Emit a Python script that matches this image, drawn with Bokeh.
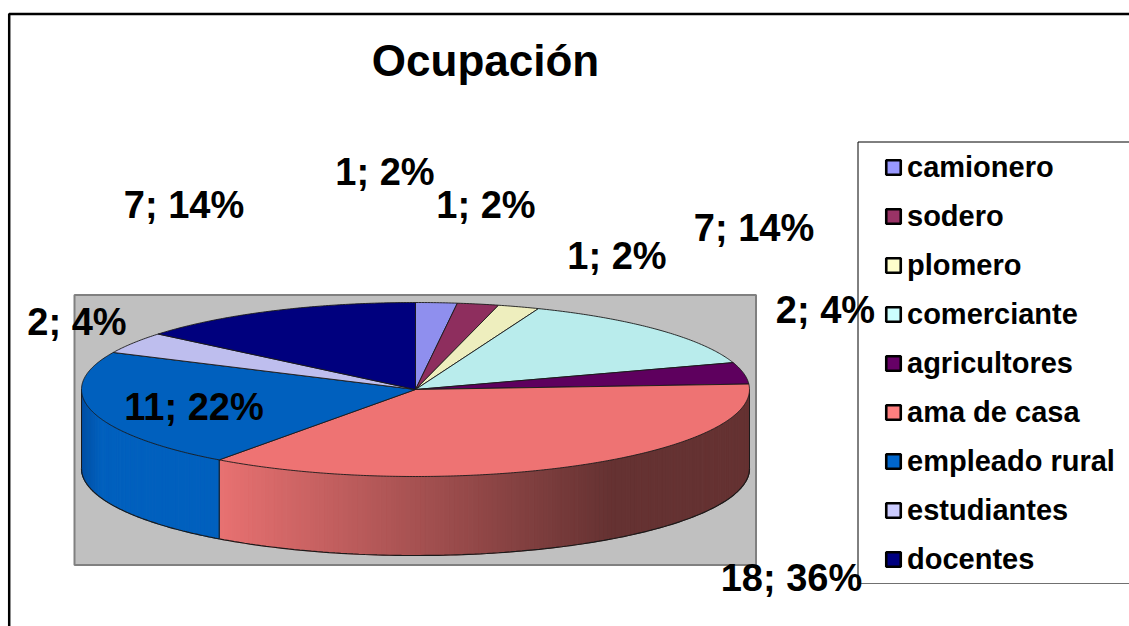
import math
from bokeh.plotting import figure
from bokeh.models import Range1d
from bokeh.core.properties import value
from bokeh.embed import file_html
from bokeh.resources import INLINE

TITLE = "Ocupación"
categories = ["camionero", "sodero", "plomero", "comerciante", "agricultores",
              "ama de casa", "empleado rural", "estudiantes", "docentes"]
counts = [1, 1, 1, 7, 2, 18, 11, 2, 7]
face_colors = ["#8F8FEE", "#8E2E5E", "#EEEEBE", "#B9ECEC", "#5E005E",
               "#EE7373", "#0060BE", "#BEBEEE", "#00007E"]
legend_colors = ["#9999FF", "#993366", "#FFFFCC", "#CCFFFF", "#660066",
                 "#FF8080", "#0066CC", "#CCCCFF", "#000080"]
label_x = [384.5, 485.5, 616.5, 753.5, 825, 791, 193.5, 76.5, 183.5]
label_y = [171, 204, 255, 227, 309, 577, 406, 321, 204]
side_stops = {5: [(219, (232, 113, 113)), (610, (101, 50, 50)), (749, (101, 50, 50))],
              6: [(81, (0, 80, 165)), (100, (0, 96, 190)), (219, (0, 96, 190))]}

W, H = 1129, 626
CX, CY, RX, RY, DEPTH = 415, 389, 334, 87, 79
FONT = value("Liberation Sans")
EDGE = "#1a1a1a"

p = figure(width=W, height=H, output_backend="svg", toolbar_location=None,
           x_range=Range1d(0, W), y_range=Range1d(H, 0),
           min_border=0, outline_line_color=None, background_fill_color="white",
           border_fill_color="white")
p.axis.visible = False
p.grid.visible = False


def rim(t_deg):
    t = math.radians(t_deg)
    return CX + RX * math.sin(t), CY - RY * math.cos(t)


def lerp_color(stops, x):
    if x <= stops[0][0]:
        c = stops[0][1]
    else:
        c = stops[-1][1]
        for (x0, c0), (x1, c1) in zip(stops, stops[1:]):
            if x0 <= x <= x1:
                f = (x - x0) / (x1 - x0)
                c = tuple(c0[i] + f * (c1[i] - c0[i]) for i in range(3))
                break
    return "#%02x%02x%02x" % tuple(int(round(v)) for v in c)


# chart frame
p.line([8.7, 8.7, 1129], [626, 13.5, 13.5], line_color="#000000", line_width=2.5)

# plot area
p.quad(left=74, right=755.5, top=294.5, bottom=564.5, fill_color="#C0C0C0",
       line_color="#808080", line_width=2)

total = sum(counts)
angles = [0]
for c in counts:
    angles.append(angles[-1] + 360 * c / total)

# visible rim of the pie (front half)
for i in range(len(counts)):
    a0, a1 = max(angles[i], 90), min(angles[i + 1], 270)
    if a1 <= a0:
        continue
    n = max(2, int((a1 - a0) * 1.2))
    xs, ys, cols = [], [], []
    for k in range(n):
        t0, t1 = a0 + (a1 - a0) * k / n, a0 + (a1 - a0) * (k + 1) / n
        x0, y0 = rim(t0)
        x1, y1 = rim(t1)
        xs.append([x0, x1, x1, x0])
        ys.append([y0, y1, y1 + DEPTH, y0 + DEPTH])
        cols.append(lerp_color(side_stops[i], (x0 + x1) / 2))
    p.patches(xs, ys, fill_color=cols, line_color=cols, line_width=1)
    # outline of this side piece
    arc = [rim(a0 + (a1 - a0) * k / 120) for k in range(121)]
    p.line([q[0] for q in arc], [q[1] + DEPTH for q in arc], line_color=EDGE, line_width=1.2)
    if a0 > 90 or a1 < 270:
        for t in (a0, a1):
            if 90 < t < 270:
                x, y = rim(t)
                p.line([x, x], [y, y + DEPTH], line_color=EDGE, line_width=1)
for t in (90, 270):
    x, y = rim(t)
    p.line([x, x], [y, y + DEPTH], line_color=EDGE, line_width=1)

# top faces
for i in range(len(counts)):
    a0, a1 = angles[i], angles[i + 1]
    n = max(8, int((a1 - a0) * 2))
    arc = [rim(a0 + (a1 - a0) * k / n) for k in range(n + 1)]
    p.patch([CX] + [q[0] for q in arc], [CY] + [q[1] for q in arc],
            fill_color=face_colors[i], line_color=EDGE, line_width=0.9)

# legend
p.line([1129, 857.5, 857.5], [141.5, 141.5, 583], line_color="#000000", line_width=1)
p.line([857, 1129], [583, 583], line_color="#707070", line_width=1)
leg_y = [167 + 49 * i for i in range(len(categories))]
p.rect([893] * len(categories), leg_y, width=14.5, height=14.5, fill_color=legend_colors,
       line_color="#000000", line_width=2.6)
p.text([906.5] * len(categories), [y - 1 for y in leg_y], text=categories, text_font=FONT,
       text_font_size="29px", text_font_style="bold", text_color="#000000",
       text_align="left", text_baseline="middle")

# data labels
labels = [f"{c}; {round(100 * c / total)}%" for c in counts]
p.text(label_x, label_y, text=labels, text_font=FONT, text_font_size="38px",
       text_font_style="bold", text_color="#000000", text_align="center", text_baseline="middle")

# title
p.text([485], [59.5], text=[TITLE], text_font=FONT, text_font_size="44px",
       text_font_style="bold", text_color="#000000", text_align="center", text_baseline="middle")

open("out.html", "w").write(file_html(p, INLINE))
